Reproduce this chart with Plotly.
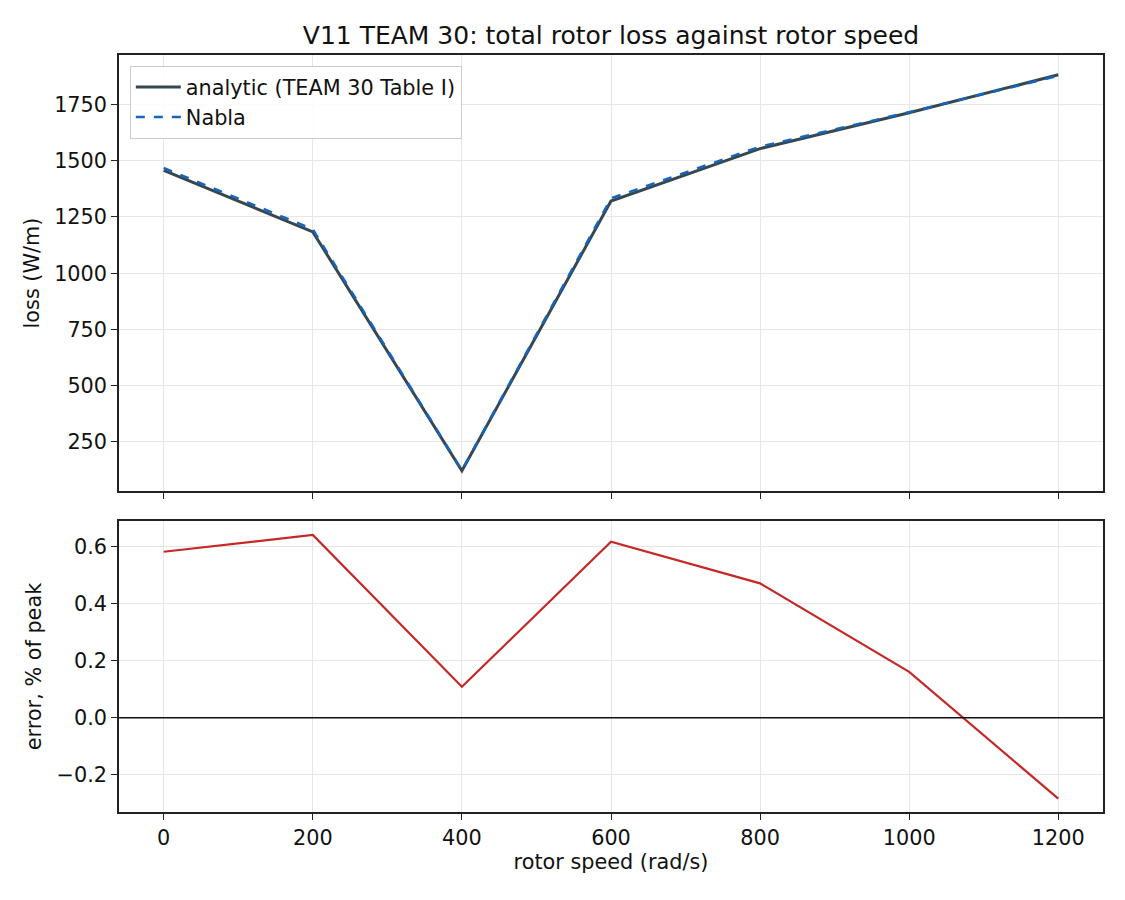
import plotly.graph_objects as go
from plotly.subplots import make_subplots

# rotor speed (rad/s)
speed = [0, 200, 400, 600, 800, 1000, 1200]

# total rotor loss (W/m)
loss_analytic = [1457, 1184, 122, 1321, 1554, 1713, 1882]
loss_nabla = [1468, 1196, 124, 1333, 1563, 1716, 1877]

# error relative to peak (%)
error_pct = [0.583, 0.642, 0.109, 0.618, 0.472, 0.161, -0.284]

FONT = 'DejaVu Sans, Arial, sans-serif'
AXIS_COLOR = '#222222'
GRID_COLOR = '#e6e6e6'
TEXT = 20.8

fig = make_subplots(rows=2, cols=1, shared_xaxes=True)

fig.add_trace(go.Scatter(
    x=speed, y=loss_analytic,
    mode='lines',
    name='analytic (TEAM 30 Table I)',
    line=dict(color='#37474f', width=3),
), row=1, col=1)

fig.add_trace(go.Scatter(
    x=speed, y=loss_nabla,
    mode='lines',
    name='Nabla',
    line=dict(color='#1565c0', width=2.4, dash='dash'),
), row=1, col=1)

fig.add_trace(go.Scatter(
    x=speed, y=error_pct,
    mode='lines',
    showlegend=False,
    line=dict(color='#c62828', width=2.2),
), row=2, col=1)

# zero reference line in the error panel
fig.add_hline(y=0, line=dict(color='#111111', width=1.3), row=2, col=1)

axis_common = dict(
    showline=True,
    mirror=True,
    linecolor=AXIS_COLOR,
    linewidth=1.5,
    ticks='outside',
    ticklen=6,
    tickwidth=1.3,
    tickcolor=AXIS_COLOR,
    showgrid=True,
    gridcolor=GRID_COLOR,
    gridwidth=1,
    zeroline=False,
    tickfont=dict(size=TEXT, color='#111111'),
)

fig.update_xaxes(**axis_common)
fig.update_yaxes(**axis_common)

fig.update_xaxes(range=[-60, 1260], tickvals=speed, showticklabels=False, row=1, col=1)
fig.update_xaxes(
    range=[-60, 1260], tickvals=speed, showticklabels=True,
    title=dict(text='rotor speed (rad/s)', font=dict(size=TEXT, color='#111111'), standoff=6),
    row=2, col=1,
)

fig.update_yaxes(
    range=[32, 1970],
    tickvals=[250, 500, 750, 1000, 1250, 1500, 1750],
    title=dict(text='loss (W/m)', font=dict(size=TEXT, color='#111111'), standoff=9),
    domain=[0.424, 1.0],
    row=1, col=1,
)
fig.update_yaxes(
    range=[-0.331, 0.691],
    tickvals=[-0.2, 0.0, 0.2, 0.4, 0.6],
    ticktext=['\u22120.2', '0.0', '0.2', '0.4', '0.6'],
    title=dict(text='error, % of peak', font=dict(size=TEXT, color='#111111'), standoff=9),
    domain=[0.0, 0.3844],
    row=2, col=1,
)

fig.update_layout(
    width=1117,
    height=892,
    font=dict(family=FONT, size=TEXT, color='#111111'),
    paper_bgcolor='white',
    plot_bgcolor='white',
    margin=dict(l=111, r=22, t=47, b=88),
    title=dict(
        text='V11 TEAM 30: total rotor loss against rotor speed',
        x=0.5, xref='paper', xanchor='center',
        y=1 - 27 / 892, yref='container', yanchor='middle',
        font=dict(size=25, color='#111111'),
    ),
    legend=dict(
        x=0.011, y=0.9855, xanchor='left', yanchor='top',
        bgcolor='rgba(255,255,255,0.85)',
        bordercolor='#cccccc',
        borderwidth=1,
        font=dict(size=TEXT, color='#111111'),
        tracegroupgap=0,
        itemwidth=45,
    ),
    showlegend=True,
)

fig.write_html("out.html")
